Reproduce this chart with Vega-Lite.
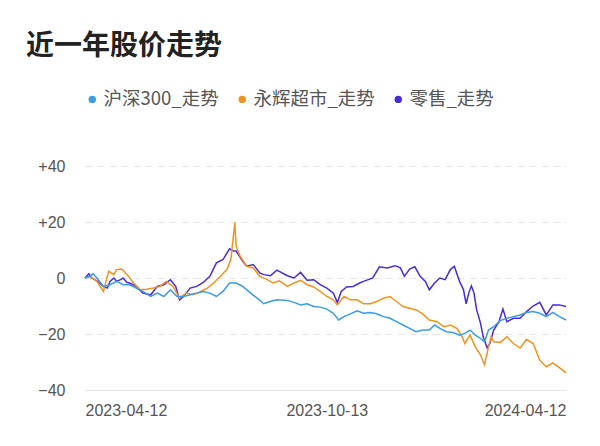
{
  "$schema": "https://vega.github.io/schema/vega-lite/v6.json",
  "width": 481,
  "height": 224,
  "autosize": {"type": "none"},
  "padding": {"left": 85, "top": 166, "right": 34, "bottom": 56},
  "background": "white",
  "title": {
    "text": "近一年股价走势",
    "anchor": "start",
    "frame": "group",
    "dx": -59,
    "offset": 29,
    "font": "Noto Sans CJK SC",
    "fontSize": 28,
    "fontWeight": "bold",
    "color": "#222222"
  },
  "config": {
    "view": {"stroke": null},
    "axis": {"labelFont": "Liberation Sans", "labelFontSize": 16, "labelColor": "#555555"}
  },
  "data": {
    "values": [
      {"date": "2023-04-12", "series": "零售_走势", "value": 0},
      {"date": "2023-04-15", "series": "零售_走势", "value": 1.5},
      {"date": "2023-04-17", "series": "零售_走势", "value": 0},
      {"date": "2023-04-21", "series": "零售_走势", "value": -1},
      {"date": "2023-04-26", "series": "零售_走势", "value": -3},
      {"date": "2023-04-29", "series": "零售_走势", "value": -3.6},
      {"date": "2023-05-01", "series": "零售_走势", "value": -1.2},
      {"date": "2023-05-04", "series": "零售_走势", "value": 0},
      {"date": "2023-05-06", "series": "零售_走势", "value": -1.2},
      {"date": "2023-05-09", "series": "零售_走势", "value": -0.6},
      {"date": "2023-05-11", "series": "零售_走势", "value": 0},
      {"date": "2023-05-14", "series": "零售_走势", "value": -1.6},
      {"date": "2023-05-16", "series": "零售_走势", "value": -1.8},
      {"date": "2023-05-21", "series": "零售_走势", "value": -3},
      {"date": "2023-05-26", "series": "零售_走势", "value": -5.4},
      {"date": "2023-06-01", "series": "零售_走势", "value": -6},
      {"date": "2023-06-06", "series": "零售_走势", "value": -3},
      {"date": "2023-06-11", "series": "零售_走势", "value": -2.4},
      {"date": "2023-06-16", "series": "零售_走势", "value": -0.6},
      {"date": "2023-06-20", "series": "零售_走势", "value": -3},
      {"date": "2023-06-23", "series": "零售_走势", "value": -7.8},
      {"date": "2023-06-26", "series": "零售_走势", "value": -6.6},
      {"date": "2023-07-01", "series": "零售_走势", "value": -3.6},
      {"date": "2023-07-06", "series": "零售_走势", "value": -3},
      {"date": "2023-07-11", "series": "零售_走势", "value": -1.6},
      {"date": "2023-07-16", "series": "零售_走势", "value": 0.6},
      {"date": "2023-07-21", "series": "零售_走势", "value": 5.4},
      {"date": "2023-07-26", "series": "零售_走势", "value": 6.6},
      {"date": "2023-07-31", "series": "零售_走势", "value": 10.4},
      {"date": "2023-08-03", "series": "零售_走势", "value": 9.6},
      {"date": "2023-08-05", "series": "零售_走势", "value": 9.6},
      {"date": "2023-08-10", "series": "零售_走势", "value": 6},
      {"date": "2023-08-13", "series": "零售_走势", "value": 4.2},
      {"date": "2023-08-18", "series": "零售_走势", "value": 4.8},
      {"date": "2023-08-23", "series": "零售_走势", "value": 1.8},
      {"date": "2023-08-26", "series": "零售_走势", "value": 1.2},
      {"date": "2023-08-31", "series": "零售_走势", "value": 0.8},
      {"date": "2023-09-05", "series": "零售_走势", "value": 2.8},
      {"date": "2023-09-13", "series": "零售_走势", "value": 0.8},
      {"date": "2023-09-18", "series": "零售_走势", "value": 0},
      {"date": "2023-09-23", "series": "零售_走势", "value": 2},
      {"date": "2023-09-28", "series": "零售_走势", "value": -0.8},
      {"date": "2023-10-03", "series": "零售_走势", "value": -0.6},
      {"date": "2023-10-08", "series": "零售_走势", "value": -2.4},
      {"date": "2023-10-13", "series": "零售_走势", "value": -3.6},
      {"date": "2023-10-18", "series": "零售_走势", "value": -5.4},
      {"date": "2023-10-21", "series": "零售_走势", "value": -8.7},
      {"date": "2023-10-24", "series": "零售_走势", "value": -4.8},
      {"date": "2023-10-28", "series": "零售_走势", "value": -3.2},
      {"date": "2023-11-02", "series": "零售_走势", "value": -3},
      {"date": "2023-11-07", "series": "零售_走势", "value": -1.8},
      {"date": "2023-11-10", "series": "零售_走势", "value": -1.2},
      {"date": "2023-11-17", "series": "零售_走势", "value": 0},
      {"date": "2023-11-22", "series": "零售_走势", "value": 4},
      {"date": "2023-11-28", "series": "零售_走势", "value": 3.6},
      {"date": "2023-12-04", "series": "零售_走势", "value": 4.4},
      {"date": "2023-12-08", "series": "零售_走势", "value": 3.6},
      {"date": "2023-12-11", "series": "零售_走势", "value": 0.6},
      {"date": "2023-12-15", "series": "零售_走势", "value": 3.2},
      {"date": "2023-12-19", "series": "零售_走势", "value": 4},
      {"date": "2023-12-23", "series": "零售_走势", "value": 0.6},
      {"date": "2023-12-27", "series": "零售_走势", "value": -1.2},
      {"date": "2023-12-30", "series": "零售_走势", "value": -4.2},
      {"date": "2024-01-03", "series": "零售_走势", "value": -1.8},
      {"date": "2024-01-07", "series": "零售_走势", "value": 0},
      {"date": "2024-01-11", "series": "零售_走势", "value": -0.6},
      {"date": "2024-01-15", "series": "零售_走势", "value": 3},
      {"date": "2024-01-18", "series": "零售_走势", "value": 4.2},
      {"date": "2024-01-22", "series": "零售_走势", "value": -1.2},
      {"date": "2024-01-25", "series": "零售_走势", "value": -4.2},
      {"date": "2024-01-27", "series": "零售_走势", "value": -9.2},
      {"date": "2024-01-29", "series": "零售_走势", "value": -5.4},
      {"date": "2024-01-31", "series": "零售_走势", "value": -2.8},
      {"date": "2024-02-02", "series": "零售_走势", "value": -5.4},
      {"date": "2024-02-04", "series": "零售_走势", "value": -11.4},
      {"date": "2024-02-07", "series": "零售_走势", "value": -16.2},
      {"date": "2024-02-09", "series": "零售_走势", "value": -21},
      {"date": "2024-02-12", "series": "零售_走势", "value": -25},
      {"date": "2024-02-14", "series": "零售_走势", "value": -23.4},
      {"date": "2024-02-17", "series": "零售_走势", "value": -18.6},
      {"date": "2024-02-21", "series": "零售_走势", "value": -15.6},
      {"date": "2024-02-24", "series": "零售_走势", "value": -11.1},
      {"date": "2024-02-27", "series": "零售_走势", "value": -15.6},
      {"date": "2024-03-03", "series": "零售_走势", "value": -14.4},
      {"date": "2024-03-08", "series": "零售_走势", "value": -14.4},
      {"date": "2024-03-13", "series": "零售_走势", "value": -12},
      {"date": "2024-03-18", "series": "零售_走势", "value": -10},
      {"date": "2024-03-23", "series": "零售_走势", "value": -8.7},
      {"date": "2024-03-28", "series": "零售_走势", "value": -13.2},
      {"date": "2024-04-02", "series": "零售_走势", "value": -9.6},
      {"date": "2024-04-07", "series": "零售_走势", "value": -9.6},
      {"date": "2024-04-12", "series": "零售_走势", "value": -10.2},

      {"date": "2023-04-12", "series": "永辉超市_走势", "value": 0},
      {"date": "2023-04-16", "series": "永辉超市_走势", "value": 0.6},
      {"date": "2023-04-21", "series": "永辉超市_走势", "value": -1.2},
      {"date": "2023-04-26", "series": "永辉超市_走势", "value": -4.8},
      {"date": "2023-04-30", "series": "永辉超市_走势", "value": 2.4},
      {"date": "2023-05-04", "series": "永辉超市_走势", "value": 1.2},
      {"date": "2023-05-06", "series": "永辉超市_走势", "value": 3},
      {"date": "2023-05-10", "series": "永辉超市_走势", "value": 3.2},
      {"date": "2023-05-14", "series": "永辉超市_走势", "value": 1.2},
      {"date": "2023-05-19", "series": "永辉超市_走势", "value": -1.8},
      {"date": "2023-05-24", "series": "永辉超市_走势", "value": -4.2},
      {"date": "2023-05-29", "series": "永辉超市_走势", "value": -4},
      {"date": "2023-06-03", "series": "永辉超市_走势", "value": -3.6},
      {"date": "2023-06-08", "series": "永辉超市_走势", "value": -3},
      {"date": "2023-06-13", "series": "永辉超市_走势", "value": -1.2},
      {"date": "2023-06-18", "series": "永辉超市_走势", "value": -3},
      {"date": "2023-06-23", "series": "永辉超市_走势", "value": -7.2},
      {"date": "2023-06-28", "series": "永辉超市_走势", "value": -5.4},
      {"date": "2023-07-03", "series": "永辉超市_走势", "value": -6},
      {"date": "2023-07-08", "series": "永辉超市_走势", "value": -5.1},
      {"date": "2023-07-14", "series": "永辉超市_走势", "value": -3.6},
      {"date": "2023-07-19", "series": "永辉超市_走势", "value": -1.8},
      {"date": "2023-07-24", "series": "永辉超市_走势", "value": 0.6},
      {"date": "2023-07-29", "series": "永辉超市_走势", "value": 3},
      {"date": "2023-08-01", "series": "永辉超市_走势", "value": 6.6},
      {"date": "2023-08-04", "series": "永辉超市_走势", "value": 19.8},
      {"date": "2023-08-05", "series": "永辉超市_走势", "value": 11.4},
      {"date": "2023-08-08", "series": "永辉超市_走势", "value": 7.8},
      {"date": "2023-08-13", "series": "永辉超市_走势", "value": 4.2},
      {"date": "2023-08-18", "series": "永辉超市_走势", "value": 3.6},
      {"date": "2023-08-23", "series": "永辉超市_走势", "value": 0.6},
      {"date": "2023-08-28", "series": "永辉超市_走势", "value": -0.4},
      {"date": "2023-09-02", "series": "永辉超市_走势", "value": -1.8},
      {"date": "2023-09-07", "series": "永辉超市_走势", "value": -1},
      {"date": "2023-09-13", "series": "永辉超市_走势", "value": -3},
      {"date": "2023-09-18", "series": "永辉超市_走势", "value": -1.8},
      {"date": "2023-09-23", "series": "永辉超市_走势", "value": -0.8},
      {"date": "2023-09-28", "series": "永辉超市_走势", "value": -2.4},
      {"date": "2023-10-03", "series": "永辉超市_走势", "value": -3.2},
      {"date": "2023-10-08", "series": "永辉超市_走势", "value": -4.8},
      {"date": "2023-10-13", "series": "永辉超市_走势", "value": -6.6},
      {"date": "2023-10-18", "series": "永辉超市_走势", "value": -7.8},
      {"date": "2023-10-21", "series": "永辉超市_走势", "value": -9.6},
      {"date": "2023-10-26", "series": "永辉超市_走势", "value": -6.6},
      {"date": "2023-10-31", "series": "永辉超市_走势", "value": -7.8},
      {"date": "2023-11-05", "series": "永辉超市_走势", "value": -7.8},
      {"date": "2023-11-10", "series": "永辉超市_走势", "value": -9.2},
      {"date": "2023-11-15", "series": "永辉超市_走势", "value": -9.2},
      {"date": "2023-11-20", "series": "永辉超市_走势", "value": -8.4},
      {"date": "2023-11-25", "series": "永辉超市_走势", "value": -7.2},
      {"date": "2023-11-30", "series": "永辉超市_走势", "value": -6.6},
      {"date": "2023-12-05", "series": "永辉超市_走势", "value": -8.4},
      {"date": "2023-12-10", "series": "永辉超市_走势", "value": -10.2},
      {"date": "2023-12-15", "series": "永辉超市_走势", "value": -10.8},
      {"date": "2023-12-20", "series": "永辉超市_走势", "value": -11.4},
      {"date": "2023-12-25", "series": "永辉超市_走势", "value": -12.8},
      {"date": "2023-12-30", "series": "永辉超市_走势", "value": -15},
      {"date": "2024-01-05", "series": "永辉超市_走势", "value": -15.6},
      {"date": "2024-01-10", "series": "永辉超市_走势", "value": -17.4},
      {"date": "2024-01-15", "series": "永辉超市_走势", "value": -16.8},
      {"date": "2024-01-20", "series": "永辉超市_走势", "value": -18},
      {"date": "2024-01-24", "series": "永辉超市_走势", "value": -21},
      {"date": "2024-01-26", "series": "永辉超市_走势", "value": -23.4},
      {"date": "2024-01-30", "series": "永辉超市_走势", "value": -20.4},
      {"date": "2024-02-03", "series": "永辉超市_走势", "value": -24.6},
      {"date": "2024-02-07", "series": "永辉超市_走势", "value": -27.5},
      {"date": "2024-02-10", "series": "永辉超市_走势", "value": -31},
      {"date": "2024-02-13", "series": "永辉超市_走势", "value": -24.6},
      {"date": "2024-02-15", "series": "永辉超市_走势", "value": -21},
      {"date": "2024-02-17", "series": "永辉超市_走势", "value": -22.8},
      {"date": "2024-02-22", "series": "永辉超市_走势", "value": -23},
      {"date": "2024-02-27", "series": "永辉超市_走势", "value": -21},
      {"date": "2024-03-03", "series": "永辉超市_走势", "value": -23.4},
      {"date": "2024-03-08", "series": "永辉超市_走势", "value": -25},
      {"date": "2024-03-13", "series": "永辉超市_走势", "value": -22},
      {"date": "2024-03-18", "series": "永辉超市_走势", "value": -23.4},
      {"date": "2024-03-23", "series": "永辉超市_走势", "value": -29.3},
      {"date": "2024-03-28", "series": "永辉超市_走势", "value": -31.7},
      {"date": "2024-04-02", "series": "永辉超市_走势", "value": -30.3},
      {"date": "2024-04-07", "series": "永辉超市_走势", "value": -32},
      {"date": "2024-04-12", "series": "永辉超市_走势", "value": -33.9},

      {"date": "2023-04-12", "series": "沪深300_走势", "value": 0},
      {"date": "2023-04-16", "series": "沪深300_走势", "value": 0.6},
      {"date": "2023-04-18", "series": "沪深300_走势", "value": 1.6},
      {"date": "2023-04-21", "series": "沪深300_走势", "value": 0},
      {"date": "2023-04-26", "series": "沪深300_走势", "value": -3},
      {"date": "2023-05-01", "series": "沪深300_走势", "value": -2.4},
      {"date": "2023-05-06", "series": "沪深300_走势", "value": -1.2},
      {"date": "2023-05-11", "series": "沪深300_走势", "value": -2.4},
      {"date": "2023-05-16", "series": "沪深300_走势", "value": -2.4},
      {"date": "2023-05-21", "series": "沪深300_走势", "value": -3.6},
      {"date": "2023-05-26", "series": "沪深300_走势", "value": -4.8},
      {"date": "2023-06-01", "series": "沪深300_走势", "value": -6.6},
      {"date": "2023-06-06", "series": "沪深300_走势", "value": -5.4},
      {"date": "2023-06-11", "series": "沪深300_走势", "value": -6.6},
      {"date": "2023-06-16", "series": "沪深300_走势", "value": -4.2},
      {"date": "2023-06-21", "series": "沪深300_走势", "value": -6.6},
      {"date": "2023-06-26", "series": "沪深300_走势", "value": -6.6},
      {"date": "2023-07-01", "series": "沪深300_走势", "value": -6},
      {"date": "2023-07-06", "series": "沪深300_走势", "value": -5.4},
      {"date": "2023-07-11", "series": "沪深300_走势", "value": -4.8},
      {"date": "2023-07-16", "series": "沪深300_走势", "value": -5.4},
      {"date": "2023-07-21", "series": "沪深300_走势", "value": -6.6},
      {"date": "2023-07-26", "series": "沪深300_走势", "value": -4.8},
      {"date": "2023-07-31", "series": "沪深300_走势", "value": -1.8},
      {"date": "2023-08-05", "series": "沪深300_走势", "value": -1.8},
      {"date": "2023-08-10", "series": "沪深300_走势", "value": -3},
      {"date": "2023-08-16", "series": "沪深300_走势", "value": -5.4},
      {"date": "2023-08-21", "series": "沪深300_走势", "value": -7.2},
      {"date": "2023-08-26", "series": "沪深300_走势", "value": -9.2},
      {"date": "2023-08-31", "series": "沪深300_走势", "value": -8.4},
      {"date": "2023-09-05", "series": "沪深300_走势", "value": -7.8},
      {"date": "2023-09-13", "series": "沪深300_走势", "value": -8},
      {"date": "2023-09-18", "series": "沪深300_走势", "value": -8.7},
      {"date": "2023-09-23", "series": "沪深300_走势", "value": -9.6},
      {"date": "2023-09-28", "series": "沪深300_走势", "value": -9.2},
      {"date": "2023-10-03", "series": "沪深300_走势", "value": -10.2},
      {"date": "2023-10-08", "series": "沪深300_走势", "value": -10.4},
      {"date": "2023-10-13", "series": "沪深300_走势", "value": -11.1},
      {"date": "2023-10-18", "series": "沪深300_走势", "value": -12.6},
      {"date": "2023-10-22", "series": "沪深300_走势", "value": -15},
      {"date": "2023-10-26", "series": "沪深300_走势", "value": -13.8},
      {"date": "2023-10-31", "series": "沪深300_走势", "value": -12.8},
      {"date": "2023-11-05", "series": "沪深300_走势", "value": -11.7},
      {"date": "2023-11-10", "series": "沪深300_走势", "value": -12.6},
      {"date": "2023-11-15", "series": "沪深300_走势", "value": -12.3},
      {"date": "2023-11-20", "series": "沪深300_走势", "value": -12.8},
      {"date": "2023-11-25", "series": "沪深300_走势", "value": -13.8},
      {"date": "2023-11-30", "series": "沪深300_走势", "value": -14.4},
      {"date": "2023-12-05", "series": "沪深300_走势", "value": -15.6},
      {"date": "2023-12-10", "series": "沪深300_走势", "value": -16.8},
      {"date": "2023-12-15", "series": "沪深300_走势", "value": -18},
      {"date": "2023-12-20", "series": "沪深300_走势", "value": -19.2},
      {"date": "2023-12-25", "series": "沪深300_走势", "value": -18.6},
      {"date": "2023-12-30", "series": "沪深300_走势", "value": -18.6},
      {"date": "2024-01-03", "series": "沪深300_走势", "value": -16.8},
      {"date": "2024-01-07", "series": "沪深300_走势", "value": -18},
      {"date": "2024-01-12", "series": "沪深300_走势", "value": -19.2},
      {"date": "2024-01-17", "series": "沪深300_走势", "value": -19.5},
      {"date": "2024-01-22", "series": "沪深300_走势", "value": -20.4},
      {"date": "2024-01-26", "series": "沪深300_走势", "value": -19.8},
      {"date": "2024-01-30", "series": "沪深300_走势", "value": -18.6},
      {"date": "2024-02-03", "series": "沪深300_走势", "value": -20.4},
      {"date": "2024-02-07", "series": "沪深300_走势", "value": -21.6},
      {"date": "2024-02-10", "series": "沪深300_走势", "value": -22.8},
      {"date": "2024-02-13", "series": "沪深300_走势", "value": -18.6},
      {"date": "2024-02-17", "series": "沪深300_走势", "value": -17.4},
      {"date": "2024-02-22", "series": "沪深300_走势", "value": -15.2},
      {"date": "2024-02-27", "series": "沪深300_走势", "value": -14.4},
      {"date": "2024-03-03", "series": "沪深300_走势", "value": -13.8},
      {"date": "2024-03-08", "series": "沪深300_走势", "value": -13.2},
      {"date": "2024-03-13", "series": "沪深300_走势", "value": -12.3},
      {"date": "2024-03-18", "series": "沪深300_走势", "value": -12},
      {"date": "2024-03-23", "series": "沪深300_走势", "value": -12.6},
      {"date": "2024-03-28", "series": "沪深300_走势", "value": -13.8},
      {"date": "2024-04-02", "series": "沪深300_走势", "value": -12.3},
      {"date": "2024-04-07", "series": "沪深300_走势", "value": -13.8},
      {"date": "2024-04-12", "series": "沪深300_走势", "value": -15}
    ]
  },
  "mark": {"type": "line", "strokeWidth": 1.5, "interpolate": "linear"},
  "encoding": {
    "x": {
      "field": "date",
      "type": "temporal",
      "scale": {"domain": ["2023-04-12", "2024-04-12"]},
      "axis": {
        "title": null,
        "values": ["2023-04-12", "2023-10-13", "2024-04-12"],
        "format": "%Y-%m-%d",
        "labelFlush": true,
        "labelPadding": 12,
        "ticks": false,
        "grid": false,
        "domain": true,
        "domainColor": "#e6e6e6",
        "domainWidth": 1
      }
    },
    "y": {
      "field": "value",
      "type": "quantitative",
      "scale": {"domain": [-40, 40], "nice": false, "zero": false},
      "axis": {
        "title": null,
        "values": [-40, -20, 0, 20, 40],
        "labelExpr": "datum.value > 0 ? '+' + datum.label : datum.label",
        "labelPadding": 20,
        "ticks": false,
        "domain": false,
        "grid": true,
        "gridColor": "#e6e6e6",
        "gridDash": [7, 5],
        "gridWidth": 1
      }
    },
    "color": {
      "field": "series",
      "type": "nominal",
      "sort": ["沪深300_走势", "永辉超市_走势", "零售_走势"],
      "scale": {
        "domain": ["沪深300_走势", "永辉超市_走势", "零售_走势"],
        "range": ["#3b9be3", "#f0931e", "#4a2bd8"]
      },
      "legend": {
        "title": null,
        "orient": "none",
        "legendX": -2,
        "legendY": -76,
        "direction": "horizontal",
        "symbolType": "circle",
        "symbolSize": 55,
        "labelFont": "Noto Sans CJK SC",
        "labelFontSize": 18.5,
        "labelColor": "#555555",
        "labelOffset": 2,
        "columnPadding": 14,
        "padding": 0,
        "encode": {
          "symbols": {
            "update": {
              "fill": {"scale": "color", "field": "value"},
              "stroke": {"value": "transparent"},
              "strokeWidth": {"value": 0}
            }
          }
        }
      }
    }
  }
}
